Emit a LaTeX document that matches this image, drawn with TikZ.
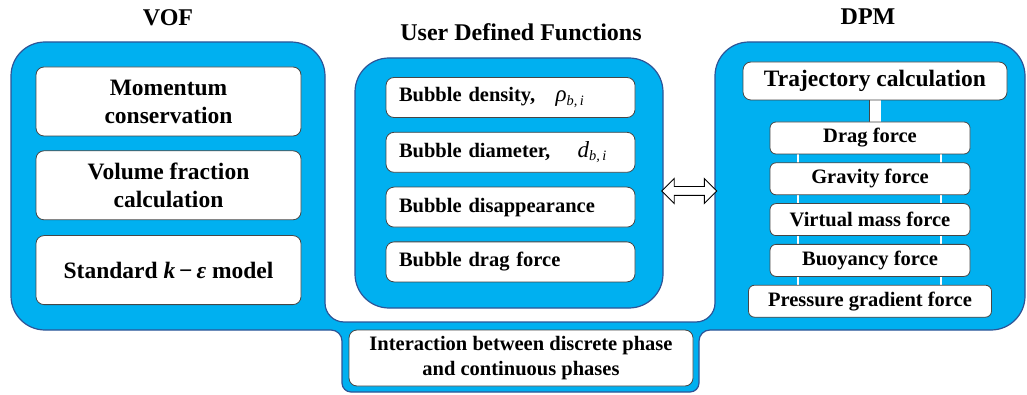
\documentclass[tikz,border=0pt]{standalone}
\usepackage{fontspec}
\setmainfont{Liberation Serif}
\usetikzlibrary{positioning,shapes.arrows,calc,backgrounds}

\definecolor{panelblue}{RGB}{0,176,240}
\definecolor{rimblue}{RGB}{46,84,150}
\definecolor{boxrim}{RGB}{70,70,70}

\newcommand{\titletxt}{\fontsize{24}{28}\selectfont\bfseries}
\newcommand{\bigtxt}{\fontsize{23.5}{28}\selectfont\bfseries}
\newcommand{\midtxt}{\fontsize{20.5}{25}\selectfont\bfseries}
% italic symbol with a subscript, as in the bubble boxes
\newcommand{\bubvar}[1]{{\mdseries\itshape\fontsize{23}{25}\selectfont #1}\textsubscript{\mdseries\itshape b,\,i}}

\tikzset{
  panel/.style={fill=panelblue, draw=rimblue, line width=1.2pt},
  item/.style={draw=boxrim, fill=white, line width=0.8pt, rounded corners=8pt},
  vofitem/.style={item, font=\bigtxt, align=center, minimum width=265pt, minimum height=69pt},
  udfitem/.style={item, font=\midtxt, text width=223pt, align=left, inner xsep=13pt, minimum height=40pt},
  force/.style={item, font=\midtxt, rounded corners=6pt, minimum width=200pt, minimum height=32pt},
  heading/.style={font=\titletxt},
  stem/.style={draw=boxrim, line width=0.8pt, double=white, double distance=11pt},
  tie/.style={draw=white, line width=1.5pt},
  link/.style={double arrow, draw=black, fill=white, line width=0.9pt, inner sep=0pt,
    text height=8pt, text depth=0pt, minimum width=24pt,
    double arrow head extend=8pt, double arrow tip angle=90}
}

\begin{document}
\begin{tikzpicture}[x=1pt, y=-1pt]
\useasboundingbox (0,0) rectangle (1027,395);
% titles of the three blocks
\node[heading] (vof-title) at (168,18) {VOF};
\node[heading] (udf-title) at (521,32) {User Defined Functions};
\node[heading] (dpm-title) at (868,17) {DPM};
% VOF block
\node[vofitem] (mom) at (168.5,101.5) {Momentum\\conservation};
\node[vofitem, below=14pt of mom] (frac) {Volume fraction\\calculation};
\node[vofitem, below=15pt of frac] (keps) {Standard \textit{k}\,−\,\textit{ε} model};
% user defined functions
\node[panel, rounded corners=34pt, minimum width=308pt, minimum height=250pt] (udf) at (509,183) {};
\node[udfitem] (dens) at (510.5,97.5) {Bubble density,\quad \bubvar{ρ}};
\node[udfitem, below=14pt of dens] (diam) {Bubble diameter,\quad\ \bubvar{d}};
\node[udfitem, below=14pt of diam] (disap) {Bubble disappearance};
\node[udfitem, below=14pt of disap] (bdrag) {Bubble drag force};
% DPM block
\node[item, font=\bigtxt, minimum width=264pt, minimum height=38pt] (traj) at (875,81) {Trajectory calculation};
\node[force] (drag) at (870,138) {Drag force};
\node[force, below=8pt of drag] (grav) {Gravity force};
\node[force, below=8pt of grav] (virt) {Virtual mass force};
\node[force, below=8pt of virt] (buoy) {Buoyancy force};
\node[force, minimum width=243pt, below=8pt of buoy] (pres) {Pressure gradient force};
% coupling
\node[item, font=\midtxt, align=center, minimum width=344pt, minimum height=56pt] (inter) at (521,358) {Interaction between discrete phase\\and continuous phases};
\coordinate (dpm-w) at (715,191);
\coordinate (udf-e) at (udf.east |- dpm-w);
\node[link, minimum height=55pt] (swap) at ($(udf-e)!0.5!(dpm-w)$) {};

\begin{pgfonlayer}{background}
% VOF and DPM panels joined by the strip round the interaction box
\path[panel] (11,186) -- (11,76) arc[start angle=180, end angle=270, radius=34]
  -- (291,42) arc[start angle=270, end angle=360, radius=34]
  -- (325,303) arc[start angle=180, end angle=90, radius=19]
  -- (696,322) arc[start angle=90, end angle=0, radius=19]
  -- (715,76) arc[start angle=180, end angle=270, radius=34]
  -- (991,42) arc[start angle=270, end angle=360, radius=34]
  -- (1025,296) arc[start angle=0, end angle=90, radius=34]
  -- (710,330) arc[start angle=270, end angle=180, radius=11]
  -- (699,383) arc[start angle=0, end angle=90, radius=9]
  -- (351,392) arc[start angle=90, end angle=180, radius=9]
  -- (342,341) arc[start angle=0, end angle=-90, radius=11]
  -- (45,330) arc[start angle=90, end angle=180, radius=34]
  -- cycle;
\draw[stem] (traj.south) -- (traj.south |- drag.north);
\foreach \dx in {-72,71}
  \draw[tie] ([xshift=\dx pt]drag.south) -- ([xshift=\dx pt]drag.south |- pres.north);
\end{pgfonlayer}
\end{tikzpicture}
\end{document}
